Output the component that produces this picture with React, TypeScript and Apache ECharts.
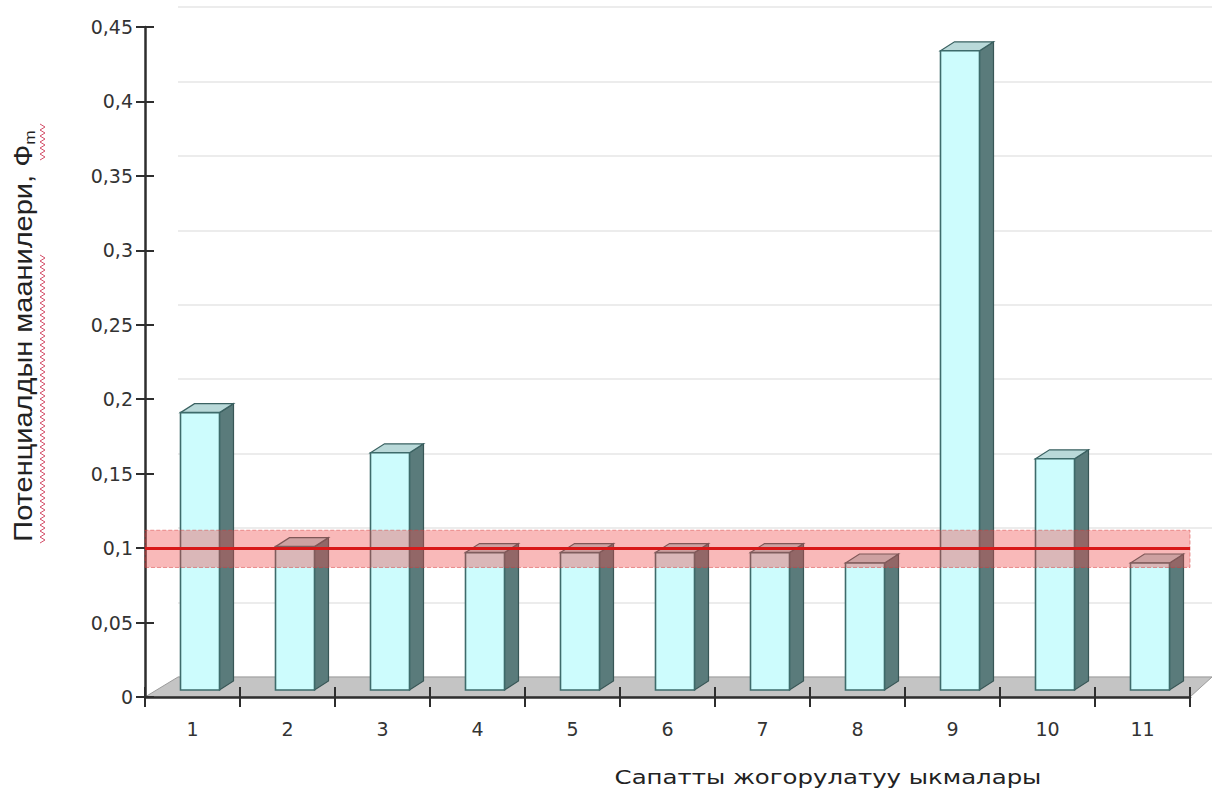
import React, { useEffect, useRef } from 'react';
import * as echarts from 'echarts';

// ---- data ----
const categories = ['1', '2', '3', '4', '5', '6', '7', '8', '9', '10', '11'];
const values = [0.191, 0.101, 0.164, 0.097, 0.097, 0.097, 0.097, 0.09, 0.434, 0.16, 0.09];
const refLine = 0.099;
const bandRange = [0.087, 0.112];
const yMin = 0;
const yMax = 0.45;
const yInterval = 0.05;

// ---- layout ----
const W = 1212;
const H = 789;
const GL = 145;
const GT = 27;
const GR = 22;
const GB = 92;
const Y0 = H - GB;
const DEPTH_X = 33;
const DEPTH_Y = 20;
const LIFT = 7;

// spell-check style wavy underline (decoration)
function squiggle(x: number, yFrom: number, yTo: number) {
  const pts: number[][] = [];
  let k = 0;
  for (let y = yFrom; y <= yTo; y += 3) {
    pts.push([k % 2 === 0 ? x : x + 5, y]);
    k++;
  }
  return {
    type: 'polyline',
    z: 10,
    shape: { points: pts },
    style: { stroke: '#d4506a', lineWidth: 1, fill: null },
  };
}

export default function App() {
  const ref = useRef<HTMLDivElement>(null);

  useEffect(() => {
    const chart = echarts.init(ref.current!, null, { renderer: 'svg' });
    const axisColor = '#2e2e2e';
    const fmt = (v: number) => String(+v.toFixed(2)).replace('.', ',');

    const option: any = {
      animation: false,
      backgroundColor: '#fff',
      grid: [
        { left: GL, top: GT, right: GR, bottom: GB },
        { left: GL + DEPTH_X, top: GT - DEPTH_Y, right: 0, bottom: GB + DEPTH_Y },
      ],
      xAxis: [
        {
          type: 'category', gridIndex: 0, data: categories, boundaryGap: true, z: 3, position: 'bottom',
          axisLine: { show: true, lineStyle: { color: axisColor, width: 2.5 } },
          axisTick: { show: true, length: 10, lineStyle: { color: axisColor, width: 2 } },
          axisLabel: { fontSize: 19, color: '#333', margin: 22, fontFamily: 'DejaVu Sans' },
          splitLine: { show: false },
        },
        {
          type: 'category', gridIndex: 0, data: categories, boundaryGap: true, z: 3, position: 'bottom',
          axisLine: { show: false },
          axisTick: { show: true, inside: true, length: 10, lineStyle: { color: axisColor, width: 2 } },
          axisLabel: { show: false },
          splitLine: { show: false },
        },
        { type: 'category', gridIndex: 1, data: categories, show: false },
      ],
      yAxis: [
        {
          type: 'value', gridIndex: 0, position: 'left', min: yMin, max: yMax, interval: yInterval, z: 3,
          axisLine: { show: true, lineStyle: { color: axisColor, width: 2.5 } },
          axisTick: { show: true, length: 9, lineStyle: { color: axisColor, width: 2 } },
          axisLabel: { fontSize: 19, color: '#333', margin: 12, fontFamily: 'DejaVu Sans', formatter: fmt },
          splitLine: { show: false },
        },
        {
          type: 'value', gridIndex: 0, position: 'left', offset: 0, min: yMin, max: yMax, interval: yInterval, z: 3,
          axisLine: { show: false },
          axisTick: { show: true, inside: true, length: 9, lineStyle: { color: axisColor, width: 2 } },
          axisLabel: { show: false },
          splitLine: { show: false },
        },
        {
          type: 'value', gridIndex: 1, min: yMin, max: yMax, interval: yInterval,
          axisLine: { show: false }, axisTick: { show: false }, axisLabel: { show: false },
          splitLine: { show: true, lineStyle: { color: '#e6e6e6', width: 1.5 } },
        },
      ],
      series: [
        {
          type: 'custom',
          xAxisIndex: 0,
          yAxisIndex: 0,
          z: 2,
          data: values.map((v, i) => [i, v]),
          renderItem: (params: any, api: any) => {
            const idx = api.value(0);
            const v = api.value(1);
            const top = api.coord([idx, v]);
            const base = api.coord([idx, 0]);
            const cx = top[0];
            const yT = top[1];
            const yB = base[1] - LIFT;
            const fl = cx - 12;
            const fr = cx + 27;
            const dx = 14;
            const dy = 9;
            return {
              type: 'group',
              children: [
                {
                  type: 'polygon',
                  shape: { points: [[fr, yT], [fr + dx, yT - dy], [fr + dx, yB - dy], [fr, yB]] },
                  style: { fill: '#5a7b7b', stroke: '#385656', lineWidth: 1.2 },
                },
                {
                  type: 'polygon',
                  shape: { points: [[fl, yT], [fl + dx, yT - dy], [fr + dx, yT - dy], [fr, yT]] },
                  style: { fill: '#b9d9d9', stroke: '#3b6262', lineWidth: 1.2 },
                },
                {
                  type: 'rect',
                  shape: { x: fl, y: yT, width: fr - fl, height: yB - yT },
                  style: { fill: '#cdfcfd', stroke: '#3d6b6b', lineWidth: 1.6 },
                },
              ],
            };
          },
        },
        {
          type: 'line',
          xAxisIndex: 0,
          yAxisIndex: 0,
          z: 5,
          data: [],
          markArea: {
            silent: true,
            z: 6,
            itemStyle: {
              color: 'rgba(238,70,70,0.38)',
              borderColor: 'rgba(215,60,60,0.5)',
              borderWidth: 1,
              borderType: 'dashed',
            },
            data: [[{ yAxis: bandRange[0] }, { yAxis: bandRange[1] }]],
          },
          markLine: {
            silent: true,
            z: 7,
            symbol: 'none',
            label: { show: false },
            lineStyle: { color: '#d81818', width: 3, type: 'solid' },
            data: [{ yAxis: refLine }],
          },
        },
        { type: 'scatter', xAxisIndex: 2, yAxisIndex: 2, data: [] },
      ],
      graphic: [
        {
          type: 'polygon',
          z: 1,
          shape: {
            points: [
              [GL, Y0],
              [W - GR, Y0],
              [W, Y0 - DEPTH_Y],
              [GL + DEPTH_X, Y0 - DEPTH_Y],
            ],
          },
          style: { fill: '#c4c4c4', stroke: '#9c9c9c', lineWidth: 1 },
        },
        {
          type: 'text',
          x: 23,
          y: 336,
          rotation: Math.PI / 2,
          scaleX: 1.16,
          style: {
            text: 'Потенциалдын маанилери, Ф{s|m}',
            fontSize: 25,
            fontFamily: 'Liberation Sans',
            fill: '#222',
            textAlign: 'center',
            textVerticalAlign: 'middle',
            rich: { s: { fontSize: 15, fontFamily: 'Liberation Sans', fill: '#222', padding: [12, 0, 0, 0] } },
          },
        },
        squiggle(40, 255, 545),
        squiggle(40, 124, 160),
        {
          type: 'text',
          x: 828,
          y: 777,
          scaleX: 1.22,
          style: {
            text: 'Сапатты жогорулатуу ыкмалары',
            fontSize: 20,
            fontFamily: 'DejaVu Sans',
            fill: '#222',
            textAlign: 'center',
            textVerticalAlign: 'middle',
          },
        },
      ],
    };

    chart.setOption(option);
    return () => chart.dispose();
  }, []);

  return (
    <div
      ref={ref}
      style={{ position: 'absolute', left: 0, top: 0, width: W, height: H, background: '#fff' }}
    />
  );
}
